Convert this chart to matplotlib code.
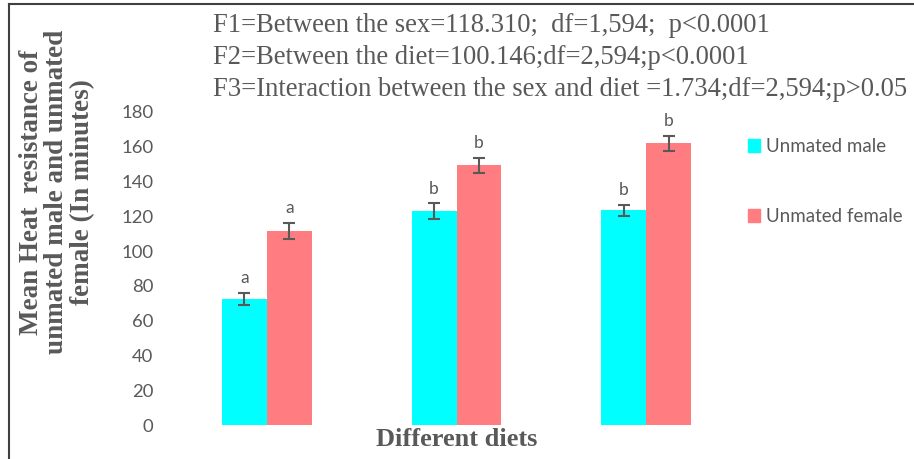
import matplotlib
matplotlib.use("Agg")
import matplotlib.pyplot as plt
import numpy as np
from matplotlib.lines import Line2D
from matplotlib.patches import Patch

diets = ["Diet 1", "Diet 2", "Diet 3"]
male = [72.6, 122.9, 123.4]
female = [111.6, 149.3, 162.0]
male_err = [3.4, 4.5, 3.4]
female_err = [4.5, 4.5, 4.2]
male_letters = ["a", "b", "b"]
female_letters = ["a", "b", "b"]
series_names = ["Unmated male", "Unmated female"]
yticks = [0, 20, 40, 60, 80, 100, 120, 140, 160, 180]
stats_lines = [
    "F1=Between the sex=118.310;  df=1,594;  p<0.0001",
    "F2=Between the diet=100.146;df=2,594;p<0.0001",
    "F3=Interaction between the sex and diet =1.734;df=2,594;p>0.05",
]

C_MALE = "#00FFFF"
C_FEMALE = "#FF7C80"
GRAY = "#595959"

fig = plt.figure(figsize=(9.14, 4.59), dpi=100)
ax = fig.add_axes([172/914, 34/459, 569/914, 313/459])

x = np.arange(len(diets))
w = 0.237
ax.bar(x - w/2, male, w, color=C_MALE, yerr=male_err,
       error_kw=dict(ecolor=GRAY, capsize=4, elinewidth=1.5, capthick=1.5))
ax.bar(x + w/2, female, w, color=C_FEMALE, yerr=female_err,
       error_kw=dict(ecolor=GRAY, capsize=4, elinewidth=1.5, capthick=1.5))

for xi, v, e, l in zip(x - w/2, male, male_err, male_letters):
    ax.annotate(l, (xi, v + e), xytext=(0, 5), textcoords="offset points",
                ha="center", va="bottom", fontsize=12.5, color=GRAY, family="Lato")
for xi, v, e, l in zip(x + w/2, female, female_err, female_letters):
    ax.annotate(l, (xi, v + e), xytext=(0, 5), textcoords="offset points",
                ha="center", va="bottom", fontsize=12.5, color=GRAY, family="Lato")

ax.set_xlim(-0.5, 2.5)
ax.set_ylim(0, 180)
ax.set_yticks(yticks)
ax.set_xticks([])
for s in ax.spines.values():
    s.set_visible(False)
ax.tick_params(axis="y", length=0, pad=13.5, labelsize=13.3, labelcolor=GRAY)
for t in ax.get_yticklabels():
    t.set_family("Lato")

ax.set_xlabel("Different diets", fontsize=19, fontweight="bold", color=GRAY,
              family="Liberation Serif", labelpad=2)

fig.text(57/914, 1 - 192/459, "Mean Heat  resistance of\nunmated male and unmated\nfemale (In minutes)",
         rotation=90, ha="center", va="center", fontsize=19.5, fontweight="bold",
         color=GRAY, family="Liberation Serif", linespacing=1.05)

for i, line in enumerate(stats_lines):
    fig.text(213/914, 1 - (25 + 32*i)/459, line, ha="left", va="center",
             fontsize=19.2, color=GRAY, family="Liberation Serif")

handles = [Patch(color=C_MALE), Patch(color=C_FEMALE)]
fig.legend(handles, series_names, loc="upper left", bbox_to_anchor=(731/914, 1 - 121/459),
           frameon=False, labelspacing=2.85, handlelength=0.65,
           handleheight=0.65, handletextpad=0.3, labelcolor=GRAY,
           prop={"family": "Lato", "size": 13.5})

fig.add_artist(Line2D([9/914, 1], [1 - 4/459, 1 - 4/459], transform=fig.transFigure,
                      color="#404040", lw=1.5))
fig.add_artist(Line2D([9/914, 9/914], [0, 1 - 4/459], transform=fig.transFigure,
                      color="#404040", lw=1.5))

fig.savefig("out.png", dpi=100)
